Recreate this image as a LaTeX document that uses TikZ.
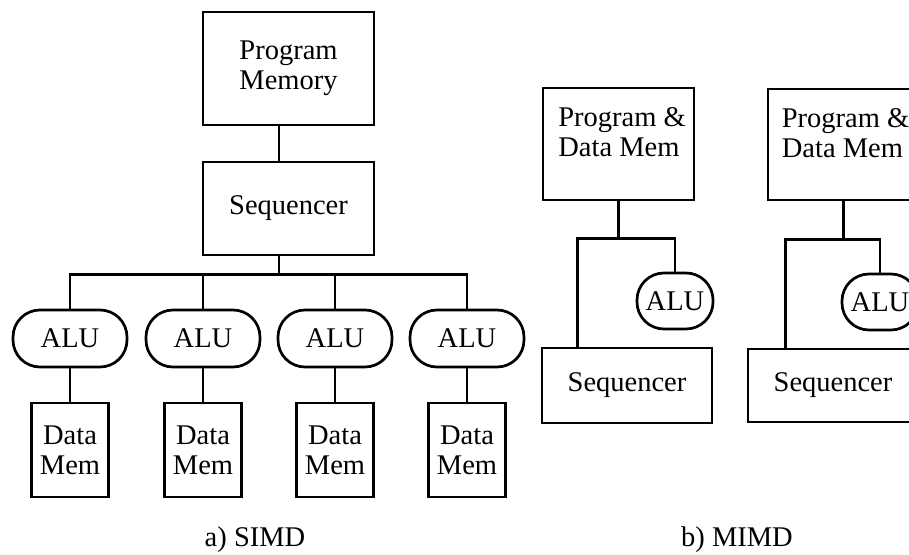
\documentclass[tikz,border=0pt]{standalone}
\usepackage{fontspec}
\setmainfont{Liberation Serif}
\begin{document}
\begin{tikzpicture}[x=1pt,y=-1pt, line width=2.7pt,
  txt/.style={font=\fontsize{28.5}{30}\selectfont},
  box/.style={txt, draw, rectangle, inner sep=0pt, align=center},
  alu/.style={box, rounded corners=27pt},
  lbl/.style={txt, inner sep=0pt, align=left}
]
\useasboundingbox (0,0) rectangle (909,554);
\clip (0,0) rectangle (909,554);

% ---------- a) SIMD ----------
\node[box, minimum width=171pt, minimum height=113pt] (pm) at (288.5,68.5) {Program\\Memory};
\node[box, minimum width=171pt, minimum height=93pt] (seq) at (288.5,208.5) {Sequencer};

\node[alu, minimum width=114pt, minimum height=57pt] (alu1) at (70,338.5) {ALU};
\node[alu, minimum width=114pt, minimum height=57pt] (alu2) at (203,338.5) {ALU};
\node[alu, minimum width=114pt, minimum height=57pt] (alu3) at (335,338.5) {ALU};
\node[alu, minimum width=114pt, minimum height=57pt] (alu4) at (467,338.5) {ALU};

\node[box, minimum width=77pt, minimum height=94pt] (dm1) at (70,450) {Data\\Mem};
\node[box, minimum width=77pt, minimum height=94pt] (dm2) at (203,450) {Data\\Mem};
\node[box, minimum width=77pt, minimum height=94pt] (dm3) at (335,450) {Data\\Mem};
\node[box, minimum width=77pt, minimum height=94pt] (dm4) at (467,450) {Data\\Mem};

\draw ([xshift=-9.5pt]pm.south) -- ([xshift=-9.5pt]seq.north);
\draw ([xshift=-9.5pt]seq.south) -- ++(0,18) coordinate (bus);
\foreach \i in {1,2,3,4} {
  \draw (bus) -| (alu\i.north);
  \draw (alu\i.south) -- (dm\i.north);
}

\node[txt, anchor=base] (capa) at (255,546) {a) SIMD};

% ---------- b) MIMD ----------
\node[box, minimum width=151pt, minimum height=112pt] (pdm1) at (618.5,144) {};
\node[lbl, anchor=north west] (pdt1) at (557,106) {Program \&\\Data Mem};
\node[alu, minimum width=76pt, minimum height=56pt] (alum1) at (675,301) {ALU};
\node[box, minimum width=170pt, minimum height=75pt] (seqm1) at (627,385.5) {Sequencer};
\draw (pdm1.south) -- ++(0,37) coordinate (j1);
\coordinate (t1) at ([xshift=37pt]seqm1.north west);
\draw (alum1.north) |- (j1) -| (t1);

\node[box, minimum width=151pt, minimum height=111pt] (pdm2) at (843.5,144.5) {};
\node[lbl, anchor=north west] (pdt2) at (780.5,107) {Program \&\\Data Mem};
\node[alu, minimum width=76pt, minimum height=56pt] (alum2) at (880,302) {ALU};
\node[box, minimum width=170pt, minimum height=73pt] (seqm2) at (833,385.5) {Sequencer};
\draw (pdm2.south) -- ++(0,38) coordinate (j2);
\coordinate (t2) at ([xshift=39pt]seqm2.north west);
\draw (alum2.north) |- (j2) -| (t2);

\node[txt, anchor=base] (capb) at (737,546) {b) MIMD};
\end{tikzpicture}
\end{document}
